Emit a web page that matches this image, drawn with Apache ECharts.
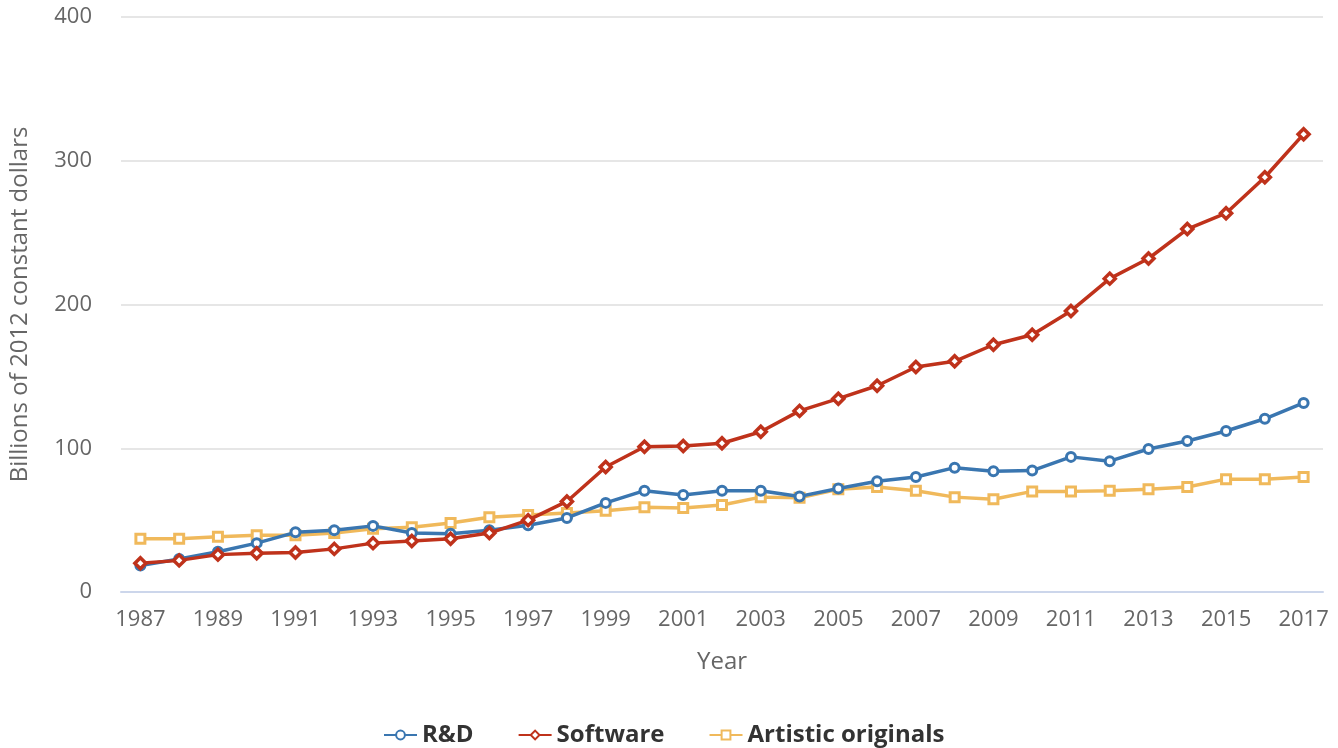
<!DOCTYPE html>
<html>
<head>
<meta charset="utf-8">
<script src="https://cdn.jsdelivr.net/npm/echarts@6/dist/echarts.min.js"></script>
<style>
  html, body { margin: 0; padding: 0; background: #fff; }
  #main { width: 1338px; height: 748px; }
</style>
</head>
<body>
<div id="main"></div>
<script>
const years = [];
for (let y = 1987; y <= 2017; y++) years.push(String(y));

const rnd = [18.5, 23, 28, 34, 41.5, 43, 46, 41, 40.5, 43, 46.5, 51.5, 62, 70.5, 67.5, 70.5, 70.5, 66.5, 72, 77, 80, 86.5, 84, 84.5, 94, 91, 99.5, 105, 112, 120.5, 131.5];
const software = [20, 22, 26, 27, 27.5, 30, 34, 35.5, 37, 41, 50, 63, 87, 101, 101.5, 103.5, 111.5, 126, 134.5, 143.5, 156.5, 160.5, 172, 179, 195.5, 218, 232, 252.5, 263.5, 288.5, 318.5];
const artistic = [37, 37, 38.5, 39.5, 39.5, 41, 44, 45, 48, 52, 53.5, 55, 56.5, 59, 58.5, 60.5, 66, 65.5, 71.5, 73, 70.5, 66, 64.5, 70, 70, 70.5, 71.5, 73, 78.5, 78.5, 80];

const yTicks = [0, 100, 200, 300, 400];

const font = '"Open Sans", sans-serif';
const blue = '#3a76b0', red = '#bf321b', orange = '#f0b95b';

const chart = echarts.init(document.getElementById('main'));
chart.setOption({
  animation: false,
  textStyle: { fontFamily: font },
  grid: { left: 121, right: 15, top: 17, bottom: 156, containLabel: false, outerBoundsMode: 'none' },
  legend: {
    top: 718,
    left: 378,
    itemGap: 44,
    itemWidth: 33,
    itemHeight: 11,
    textStyle: { fontFamily: font, fontSize: 24, fontWeight: 'bold', color: '#333' },
    data: ['R&D', 'Software', 'Artistic originals']
  },
  xAxis: {
    type: 'category',
    data: years,
    name: 'Year',
    nameLocation: 'middle',
    nameGap: 58,
    nameTextStyle: { fontFamily: font, fontSize: 24, color: '#666' },
    axisLine: { lineStyle: { color: '#ccd6eb', width: 2 } },
    axisTick: { alignWithLabel: true, interval: 1, length: 11, lineStyle: { color: '#ccd6eb', width: 2 } },
    axisLabel: { interval: 1, fontSize: 22, color: '#666', margin: 17 }
  },
  yAxis: {
    type: 'value',
    min: yTicks[0],
    max: yTicks[yTicks.length - 1],
    interval: 100,
    name: 'Billions of 2012 constant dollars',
    nameLocation: 'middle',
    nameGap: 89,
    nameTextStyle: { fontFamily: font, fontSize: 24, color: '#666' },
    axisLine: { show: false },
    axisTick: { show: false },
    axisLabel: { fontSize: 22, color: '#666', margin: 29 },
    splitLine: { lineStyle: { color: '#e6e6e6', width: 2 } }
  },
  series: [
    {
      name: 'R&D', type: 'line', data: rnd,
      symbol: 'circle', symbolSize: 9,
      lineStyle: { width: 3.5, color: blue },
      itemStyle: { color: '#fff', borderColor: blue, borderWidth: 3 },
      z: 3
    },
    {
      name: 'Software', type: 'line', data: software,
      symbol: 'diamond', symbolSize: 11,
      lineStyle: { width: 3.5, color: red },
      itemStyle: { color: '#fff', borderColor: red, borderWidth: 3.5 },
      z: 4
    },
    {
      name: 'Artistic originals', type: 'line', data: artistic,
      symbol: 'rect', symbolSize: 9,
      lineStyle: { width: 3.5, color: orange },
      itemStyle: { color: '#fff', borderColor: orange, borderWidth: 3 },
      z: 2
    }
  ]
});
</script>
</body>
</html>
